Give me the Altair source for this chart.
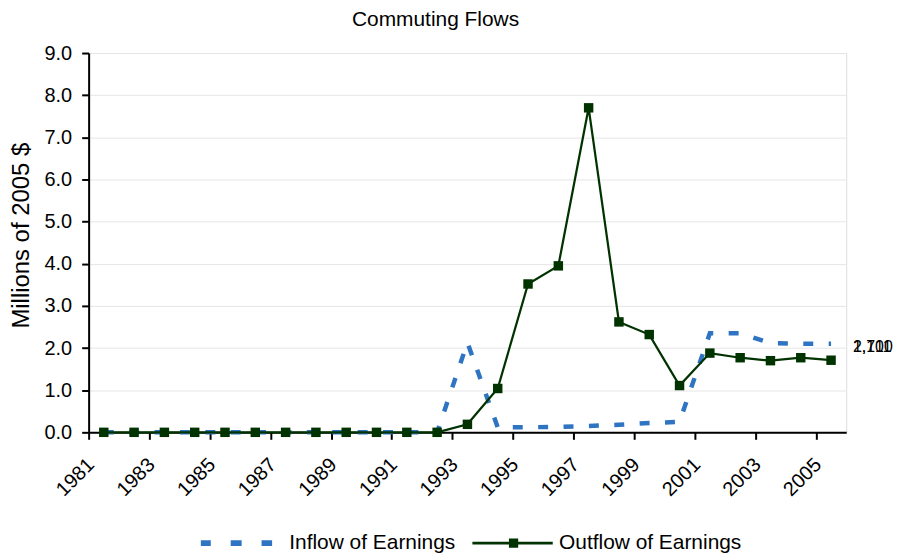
import altair as alt
import pandas as pd

years = list(range(1981, 2006))
inflow = [0, 0, 0, 0, 0, 0, 0, 0, 0, 0, 0, 0,
          2.13, 0.12, 0.12, 0.13, 0.15, 0.18, 0.22, 0.25, 2.35, 2.35, 2.12, 2.10, 2.10]
outflow = [0, 0, 0, 0, 0, 0, 0, 0, 0, 0, 0, 0,
           0.19, 1.04, 3.52, 3.95, 7.70, 2.62, 2.32, 1.11, 1.88, 1.77, 1.70, 1.77, 1.711]
series_names = ["Inflow of Earnings", "Outflow of Earnings"]
end_labels = ["2,100", "1,711"]
y_ticks = [0, 1, 2, 3, 4, 5, 6, 7, 8, 9]
x_tick_values = [y - 0.5 for y in years] + [years[-1] + 0.5]

BLUE = "#2F74C2"
GREEN = "#003300"
FONT = "Liberation Sans"

rows = []
for y, v in zip(years, inflow):
    rows.append({"year": y, "value": v, "series": series_names[0]})
for y, v in zip(years, outflow):
    rows.append({"year": y, "value": v, "series": series_names[1]})
df = pd.DataFrame(rows)

label_df = pd.DataFrame({
    "label": end_labels,
    "year": [years[-1]] * 2,
    "value": [inflow[-1]] * 2,
})

P_IN = ("M-7.36,-0.57H-5.36V0.57H-7.36Z M-1.36,-0.57H0.84V0.57H-1.36Z "
        "M4.84,-0.57H6.96V0.57H4.84Z")
P_OUT = "M-7,-0.27H9.14V0.27H-7Z M0.34,-0.92H2.2V0.92H0.34Z"

legend = alt.Legend(
    title=None, orient="none", legendX=112, legendY=481.5,
    direction="horizontal", columns=2, padding=0,
    symbolSize=100, symbolOffset=27, labelOffset=41.5, columnPadding=14,
    symbolStrokeWidth=0, symbolOpacity=1, labelLimit=400,
    labelFontSize=21, labelFont=FONT, labelColor="black",
)

color_leg = alt.Color("series:N", scale=alt.Scale(domain=series_names, range=[BLUE, GREEN]),
                      legend=legend)
shape_leg = alt.Shape("series:N", scale=alt.Scale(domain=series_names, range=[P_IN, P_OUT]),
                      legend=legend)

x_enc = alt.X("year:Q",
              scale=alt.Scale(domain=[1980.5, 2005.5], nice=False, zero=False),
              axis=alt.Axis(values=x_tick_values,
                            labelExpr="(datum.value + 0.5) % 2 == 1 ? '' + (datum.value + 0.5) : ''",
                            labelAngle=-45, labelAlign="right", labelBaseline="top",
                            labelOffset=-5, labelPadding=15, labelOverlap=False,
                            labelFlush=False, labelBound=False,
                            tickSize=7, tickWidth=2, tickColor="black",
                            domainColor="black", domainWidth=2, grid=False, title=None,
                            labelFontSize=20, labelFont=FONT, labelColor="black"))
y_enc = alt.Y("value:Q",
              scale=alt.Scale(domain=[0, 9], nice=False),
              axis=alt.Axis(values=y_ticks, format=".1f", tickSize=7, tickWidth=2,
                            tickColor="black", domainColor="black", domainWidth=2,
                            grid=True, gridColor="#e6e6e6", gridWidth=1,
                            labelFontSize=20, labelFont=FONT, labelColor="black",
                            labelPadding=10,
                            title="Millions of 2005 $", titleFontSize=24, titleFont=FONT,
                            titleFontWeight="normal", titleColor="black",
                            titleX=-55, titleY=183))

base = alt.Chart(df)

inflow_line = base.transform_filter(alt.datum.series == series_names[0]).mark_line(
    color=BLUE, strokeDash=[10, 15.5], strokeWidth=4.5
).encode(x=x_enc, y=y_enc, order="year:Q")

outflow_line = base.transform_filter(alt.datum.series == series_names[1]).mark_line(
    color=GREEN, strokeWidth=2.25
).encode(x=x_enc, y=y_enc, order="year:Q")

points = base.transform_filter(alt.datum.series == series_names[1]).mark_square(
    size=90, opacity=1, filled=True, color=GREEN
).encode(x=x_enc, y=y_enc)

legend_layer = base.transform_filter("false").mark_point(
    filled=True, opacity=1, size=100
).encode(x=x_enc, y=y_enc, color=color_leg, shape=shape_leg)

labels = alt.Chart(label_df).mark_text(
    align="left", baseline="middle", dx=22, dy=3, fontSize=16, font=FONT, color="black"
).encode(x="year:Q", y="value:Q", text="label:N")

chart = alt.layer(inflow_line, outflow_line, points, legend_layer, labels).properties(
    width=761, height=381,
    padding={"left": 81, "top": 44, "right": 47, "bottom": 125},
    autosize=alt.AutoSizeParams(type="none"),
    title=alt.TitleParams("Commuting Flows", fontSize=21, font=FONT, fontWeight="normal",
                          color="black", anchor="middle", dx=-32, dy=15, offset=11.5,
                          baseline="alphabetic", frame="group"),
).configure_view(stroke="#7f7f7f", strokeWidth=1.5).configure(font=FONT)

chart.save("out.html", embed_options={"renderer": "svg", "actions": False})
